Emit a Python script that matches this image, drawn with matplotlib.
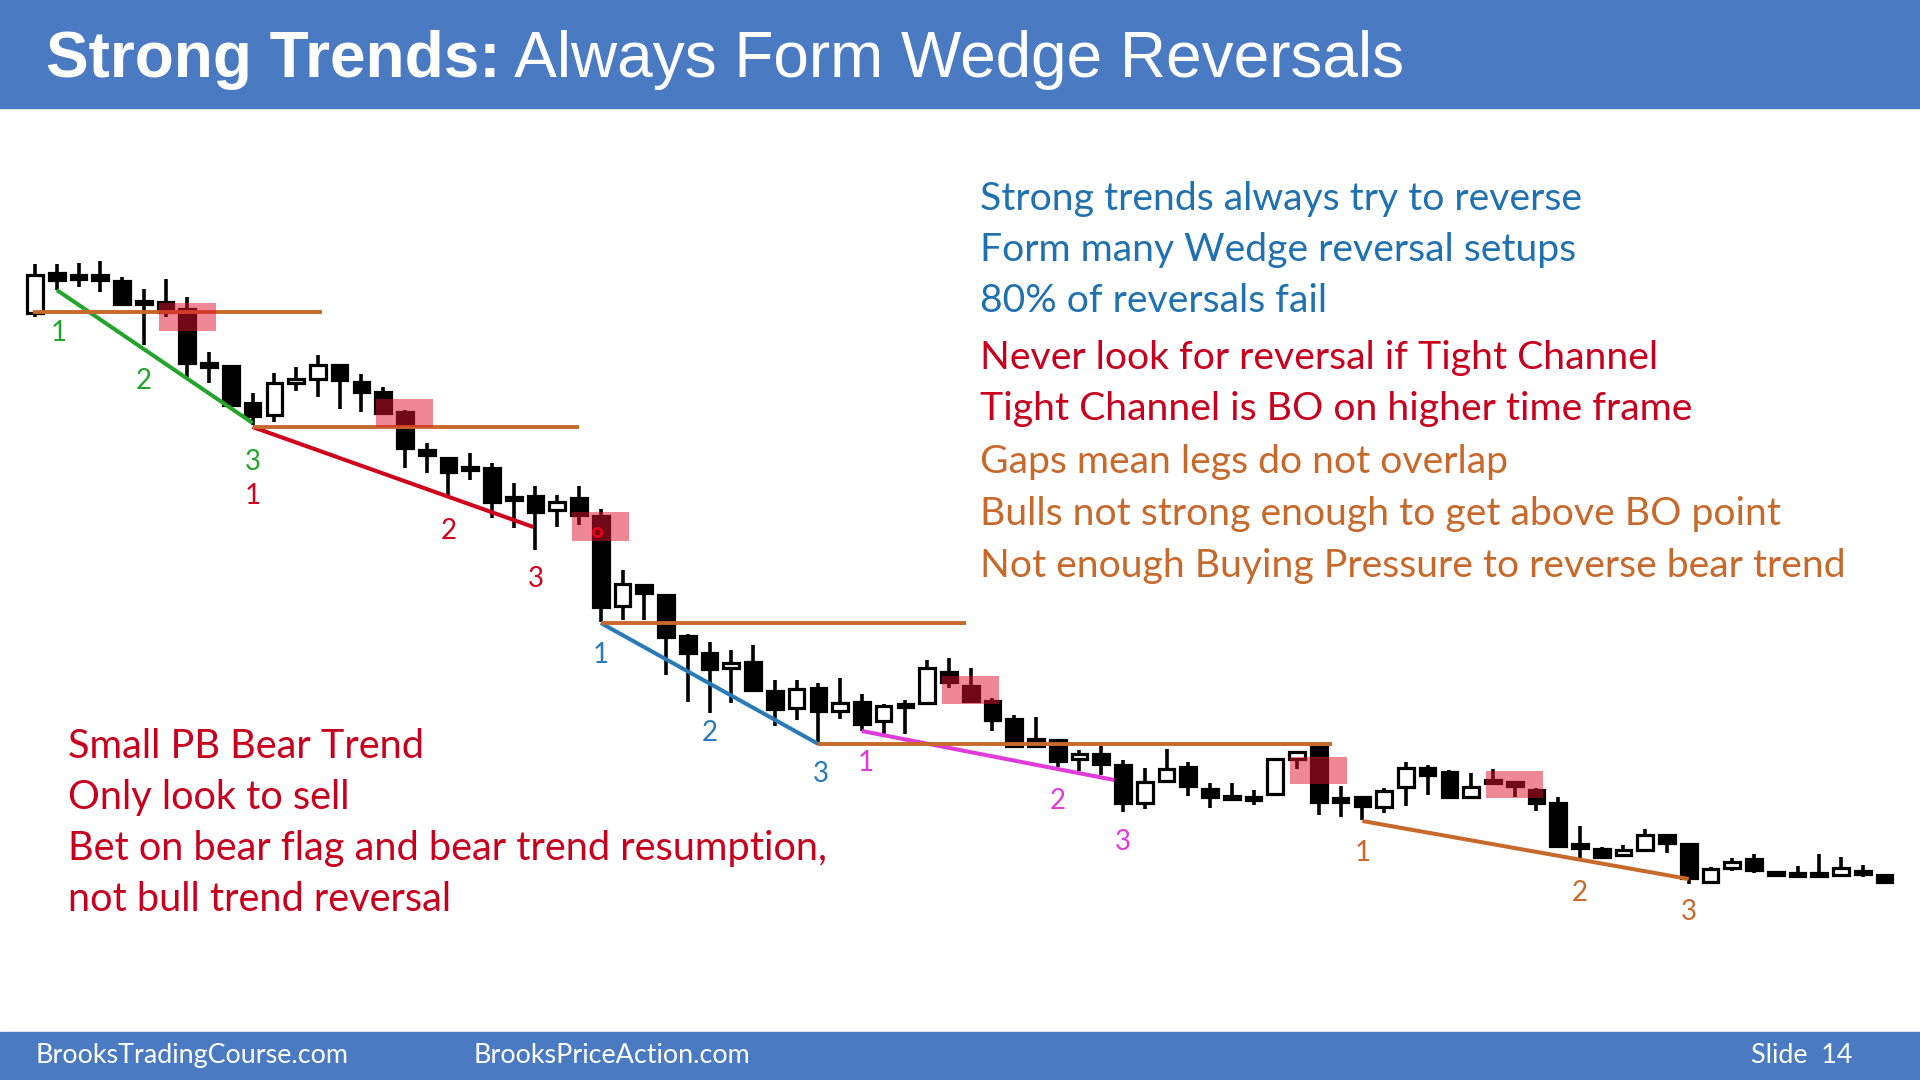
import matplotlib
matplotlib.use('Agg')
import matplotlib.pyplot as plt
from matplotlib.patches import Rectangle
import numpy as np

# OHLC prices (86 bars)
opens = [68.7, 72.7, 72.5, 72.5, 71.9, 69.8, 69.8, 69.1, 63.7, 63.4,
         59.7, 58.5, 61.7, 62.1, 63.5, 61.8, 60.8, 58.8, 55.0, 54.2,
         53.3, 53.2, 50.3, 50.4, 49.0, 50.2, 48.4, 39.4, 41.5, 40.5,
         36.4, 34.7, 33.2, 33.8, 30.9, 29.2, 31.2, 28.9, 29.8, 27.9,
         29.6, 29.7, 32.8, 31.4, 29.9, 28.1, 26.1, 26.0, 24.1, 24.6,
         23.5, 19.7, 21.9, 23.3, 21.1, 20.4, 20.3, 20.6, 24.1, 25.3,
         20.2, 20.3, 19.3, 21.3, 23.2, 22.8, 20.3, 22.0, 21.8, 21.0,
         19.7, 15.6, 15.1, 14.5, 15.0, 16.5, 15.6, 11.8, 13.2, 14.1,
         12.7, 12.7, 12.7, 12.5, 12.9, 12.5]
highs = [73.6, 73.6, 73.7, 73.9, 72.3, 71.1, 72.1, 70.3, 64.8, 63.5,
         60.7, 62.7, 63.3, 64.5, 63.5, 62.6, 61.3, 59.0, 55.7, 54.2,
         54.7, 53.7, 51.7, 51.4, 50.5, 51.4, 49.1, 43.0, 41.5, 40.5,
         36.6, 35.8, 35.0, 35.5, 32.0, 32.0, 31.7, 32.2, 30.6, 29.6,
         30.0, 34.0, 34.2, 33.2, 30.2, 28.5, 28.3, 26.1, 25.0, 25.4,
         24.0, 23.2, 25.1, 23.8, 21.7, 21.7, 21.0, 24.1, 24.8, 25.3,
         21.4, 20.3, 21.2, 23.8, 23.5, 23.0, 22.7, 23.1, 21.8, 21.2,
         20.3, 17.4, 15.3, 15.5, 17.1, 16.5, 15.6, 13.3, 14.2, 14.6,
         12.8, 13.4, 14.6, 14.3, 13.5, 12.5]
lows = [68.3, 71.0, 71.3, 70.8, 69.4, 65.5, 68.3, 62.3, 61.7, 59.3,
        57.5, 57.8, 60.9, 60.3, 59.1, 58.8, 58.7, 53.2, 52.7, 50.5,
        52.0, 48.2, 47.2, 45.0, 47.3, 47.5, 37.8, 38.0, 38.0, 32.5,
        29.8, 28.7, 29.7, 31.0, 27.4, 28.0, 25.7, 28.1, 26.9, 26.3,
        26.6, 29.6, 31.2, 29.8, 26.9, 25.4, 25.4, 23.3, 22.9, 22.5,
        18.8, 19.1, 21.7, 20.4, 19.2, 20.1, 19.5, 20.6, 23.1, 18.5,
        18.3, 18.0, 18.7, 19.4, 20.5, 20.2, 20.3, 21.7, 20.3, 18.9,
        15.4, 14.2, 14.2, 14.5, 14.8, 14.7, 11.6, 11.7, 12.9, 12.7,
        12.3, 12.4, 12.4, 12.3, 12.3, 11.6]
closes = [72.5, 72.0, 72.1, 72.0, 69.6, 69.6, 68.8, 63.7, 63.3, 59.5,
          58.4, 61.7, 62.1, 63.5, 62.0, 60.8, 58.7, 55.2, 54.5, 52.8,
          53.0, 49.8, 50.0, 48.8, 49.8, 48.5, 39.3, 41.6, 40.7, 36.3,
          34.7, 33.1, 33.7, 31.0, 29.1, 31.1, 28.9, 29.7, 27.6, 29.4,
          29.3, 33.2, 31.8, 29.9, 28.0, 25.4, 25.4, 23.9, 24.6, 23.6,
          19.7, 21.8, 23.1, 21.4, 20.3, 20.1, 20.0, 24.1, 24.8, 19.8,
          19.8, 19.4, 20.9, 23.2, 22.5, 20.3, 21.3, 21.7, 21.4, 19.7,
          15.4, 15.2, 14.3, 15.0, 16.5, 15.7, 12.2, 13.1, 13.8, 13.0,
          12.5, 12.4, 12.4, 13.2, 12.6, 11.8]

# wedge trend lines: (bar, price) start and end
wedge_x0 = [1, 10, 26, 38, 61]
wedge_y0 = [71.0, 57.3, 37.7, 26.9, 17.9]
wedge_x1 = [10, 22.9, 36, 49.6, 76]
wedge_y1 = [57.7, 47.3, 25.6, 22.0, 12.1]
wedge_colors = ['#22a52a', '#d0021b', '#2a7ab8', '#e03ad8', '#c8692c']

# breakout point lines
bo_price = [68.8, 57.3, 37.7, 25.6]
bo_start = [-0.1, 10.0, 26.0, 36.0]
bo_end = [13.2, 25.0, 42.8, 59.6]

# highlighted bear flag areas
box_center = [7.0, 17.0, 26.0, 43.0, 59.0, 68.0]
box_top = [69.7, 60.1, 48.8, 32.4, 24.3, 22.9]
box_bottom = [66.9, 57.3, 45.9, 29.6, 21.6, 20.2]

# wedge push numbers
push_text = ['1', '2', '3'] * 5
push_x = [1.1, 5.0, 10.0, 10.0, 19.0, 23.0, 26.0, 31.0, 36.1,
          38.2, 47.0, 50.0, 61.0, 71.0, 76.0]
push_y = [66.7, 61.9, 53.8, 50.4, 46.9, 42.1, 34.5, 26.7, 22.6,
          23.7, 19.9, 15.8, 14.7, 10.7, 8.8]

notes_right = ['Strong trends always try to reverse',
               'Form many Wedge reversal setups',
               '80% of reversals fail',
               'Never look for reversal if Tight Channel',
               'Tight Channel is BO on higher time frame',
               'Gaps mean legs do not overlap',
               'Bulls not strong enough to get above BO point',
               'Not enough Buying Pressure to reverse bear trend']
notes_left = ['Small PB Bear Trend',
              'Only look to sell',
              'Bet on bear flag and bear trend resumption,',
              'not bull trend reversal']

BLUE = '#4a7bc2'
TXT_BLUE = '#1f71b0'
TXT_RED = '#c8001e'
TXT_ORANGE = '#c8692c'

fig = plt.figure(figsize=(19.2, 10.8), dpi=100)
fig.patch.set_facecolor('white')

# slide layer in pixel units
lay = fig.add_axes([0, 0, 1, 1])
lay.set_xlim(0, 1920)
lay.set_ylim(1080, 0)
lay.axis('off')

lay.add_patch(Rectangle((0, 0), 1920, 108, color=BLUE, zorder=0))
lay.add_patch(Rectangle((0, 1032), 1920, 48, color=BLUE, zorder=0))

t1 = lay.text(46, 77, 'Strong Trends:', color='white', fontsize=46,
              fontweight='bold', family='Liberation Sans', va='baseline')
lay.annotate(' Always Form Wedge Reversals', xy=(1, 0), xycoords=t1,
             va='bottom', ha='left', color='white', fontsize=46,
             family='Liberation Sans')

lay.text(35, 1063, 'BrooksTradingCourse.com', color='white', fontsize=19.4,
         family='Lato', va='baseline')
lay.text(474, 1063, 'BrooksPriceAction.com', color='white', fontsize=19.4,
         family='Lato', va='baseline')
lay.text(1751, 1063, 'Slide  14', color='white', fontsize=19.4,
         family='Lato', va='baseline')

right_colors = [TXT_BLUE] * 3 + [TXT_RED] * 2 + [TXT_ORANGE] * 3
right_base = [210, 261, 312, 369, 420, 473, 525, 577]
for txt, col, yb in zip(notes_right, right_colors, right_base):
    lay.text(980, yb, txt, color=col, fontsize=28.2, family='Lato', va='baseline')

left_base = [758, 809, 860, 911]
for txt, yb in zip(notes_left, left_base):
    lay.text(68, yb, txt, color=TXT_RED, fontsize=28.6, family='Lato', va='baseline')

# price chart layer: one bar = 21.76 px, one price unit = 10 px
ax = fig.add_axes([0, 0, 1, 1])
ax.patch.set_alpha(0)
ax.set_xlim(-35 / 21.76, (1920 - 35) / 21.76)
ax.set_ylim(-8, 100)
ax.axis('off')

idx = np.arange(len(opens))
o = np.array(opens)
c = np.array(closes)
body_low = np.minimum(o, c)
body_h = np.maximum(np.abs(c - o), 0.35)
face = np.where(c > o, 'white', 'black')

ax.vlines(idx, lows, highs, color='black', lw=2.6, zorder=2)
ax.bar(idx, body_h, bottom=body_low, width=0.72, color=face,
       edgecolor='black', linewidth=2.3, zorder=3)

for xs, ys, xe, ye, col in zip(wedge_x0, wedge_y0, wedge_x1, wedge_y1, wedge_colors):
    ax.plot([xs, xe], [ys, ye], color=col, lw=2.9, zorder=4, solid_capstyle='butt')

ax.hlines(bo_price, bo_start, bo_end, color='#c8692c', lw=2.8, zorder=4)

for xc, top, bot in zip(box_center, box_top, box_bottom):
    ax.add_patch(Rectangle((xc - 1.31, bot), 2.62, top - bot,
                           facecolor='#e0102a', alpha=0.5, lw=0, zorder=5))
ax.plot([25.83], [46.8], 'o', ms=6, mfc='none', mec='#e8001a', mew=2, zorder=6)

push_colors = [c_ for c_ in wedge_colors for _ in range(3)]
for txt, xp, yp, col in zip(push_text, push_x, push_y, push_colors):
    ax.text(xp, yp, txt, color=col, fontsize=20, family='Lato',
            ha='center', va='center')

plt.savefig('out.png', dpi=100)
